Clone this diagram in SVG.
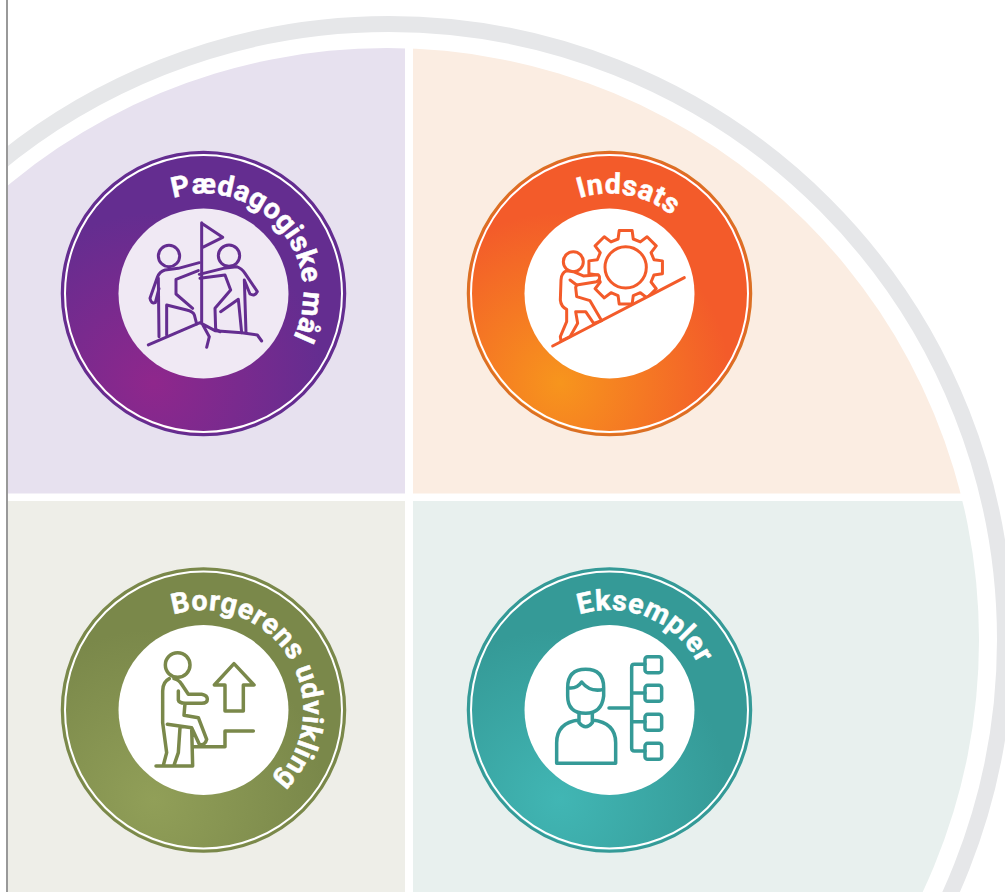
<svg xmlns="http://www.w3.org/2000/svg" width="1005" height="892" viewBox="0 0 1005 892">
<style>
.lbl{font-family:"Roboto","Liberation Sans",sans-serif;font-weight:700;font-size:28.500px;fill:#fff;stroke:#fff;stroke-width:.5px;letter-spacing:.2px}
.ico{fill:none;stroke-width:9;stroke-linecap:round;stroke-linejoin:round}
.hl{fill:none;stroke:#fff;stroke-width:2}
</style>
<defs>
<clipPath id="disc"><circle cx="387" cy="640" r="592"/></clipPath>
<clipPath id="gearClip"><polygon points="380,200 720,200 720,399 430,549 380,549"/></clipPath>
<path id="arc" d="M-30.900,-95.100A100,100 0 1 1 17.400,98.500"/>
<radialGradient id="gP" cx=".325" cy=".815" r=".6"><stop offset="0" stop-color="#8F278C"/><stop offset="1" stop-color="#642D90"/></radialGradient>
<radialGradient id="gO" cx=".325" cy=".815" r=".6"><stop offset="0" stop-color="#F7951D"/><stop offset="1" stop-color="#F35B2A"/></radialGradient>
<radialGradient id="gG" cx=".325" cy=".815" r=".6"><stop offset="0" stop-color="#919F58"/><stop offset="1" stop-color="#7A884A"/></radialGradient>
<radialGradient id="gT" cx=".325" cy=".815" r=".6"><stop offset="0" stop-color="#41B6B4"/><stop offset="1" stop-color="#359A97"/></radialGradient>
</defs>
<rect width="1005" height="892" fill="#fff"/>
<circle cx="389" cy="640" r="616" fill="none" stroke="#E6E7E9" stroke-width="16"/>
<g clip-path="url(#disc)">
<rect x="8" y="40" width="397" height="453.500" fill="#E7E1EF"/>
<rect x="413" y="40" width="592" height="453.500" fill="#FBEDE2"/>
<rect x="8" y="501" width="397" height="391" fill="#EEEEE8"/>
<rect x="413" y="501" width="592" height="391" fill="#E8F0EE"/>
</g>
<rect x="0" y="0" width="6" height="892" fill="#fff"/>
<rect x="6" y="0" width="2" height="892" fill="#999"/>

<g id="paedagogiske-maal">
<g transform="translate(203.500,293.500)">
<circle r="141.500" fill="url(#gP)" stroke="#642D90" stroke-width="2.500"/>
<circle r="138.500" class="hl"/>
<circle r="85" fill="#F0E9F4"/>
<text class="lbl"><textPath href="#arc" startOffset="1">Pædagogiske mål</textPath></text>
</g>
<g transform="translate(50,140) scale(.33333)" class="ico" stroke="#642D90">
<circle cx="357" cy="348" r="32"/><circle cx="537" cy="347" r="32"/>
<path d="M455,248V545M455,250L518,292L458,322"/>
<path d="M448,368L385,385L345,390Q328,395 322,412L300,475Q303,492 316,488L327,445M325,415L327,590M350,495V585M350,495L410,510Q430,515 433,525L440,552M445,392L378,418V462L428,505"/>
<path d="M448,403L520,385L560,380Q575,385 585,400L622,455Q615,470 600,462L583,420L588,578M450,415L525,405L542,450L495,505L497,568L510,575M512,515L565,478L575,578"/>
<path d="M295,615L450,548L495,572L575,578L622,585L635,603M455,548L478,590L470,622"/>
</g>
</g>

<g id="indsats">
<g transform="translate(609.500,293.500)">
<circle r="141.500" fill="url(#gO)" stroke="#DB7024" stroke-width="2.500"/>
<circle r="138.500" class="hl"/>
<circle r="85" fill="#fff"/>
<text class="lbl" style="letter-spacing:.5px"><textPath href="#arc" startOffset="1">Indsats</textPath></text>
</g>
<g transform="translate(455,140) scale(.33333)" class="ico" stroke="#F35B2A">
<g clip-path="url(#gearClip)">
<path transform="translate(512,382)" d="M-22.800,-85L-19.400,-110.300H19.400L22.800,-85L44,-76.200L64.300,-91.700L91.700,-64.300L76.200,-44L85,-22.800L110.300,-19.400V19.400L85,22.800L76.200,44L91.700,64.300L64.300,91.700L44,76.200L22.800,85L19.400,110.300H-19.400L-22.800,85L-44,76.200L-64.300,91.700L-91.700,64.300L-76.200,44L-85,22.800L-110.300,19.400V-19.400L-85,-22.800L-76.200,-44L-91.700,-64.300L-64.300,-91.700L-44,-76.200Z"/>
</g>
<circle cx="512" cy="382" r="62"/>
<circle cx="355" cy="365" r="30" fill="#fff"/>
<path fill="#fff" d="M335,392Q318,400 318,420L316,480Q318,500 335,508V545L316,590L318,603L345,590L368,550L362,515H392L416,550L440,542L405,482L365,470L362,442L365,435L425,425Q440,415 430,404L385,408L355,395Z"/>
<path d="M345,420L365,435"/>
<path d="M293,618L688,413"/>
</g>
</g>

<g id="borgerens-udvikling">
<g transform="translate(203.500,710)">
<circle r="141.500" fill="url(#gG)" stroke="#7A884A" stroke-width="2.500"/>
<circle r="138.500" class="hl"/>
<circle r="85" fill="#fff"/>
<text class="lbl" style="letter-spacing:.5px"><textPath href="#arc" startOffset="1">Borgerens udvikling</textPath></text>
</g>
<g transform="translate(50,556) scale(.33333)" class="ico" stroke="#7A884A" style="stroke-width:10.500">
<circle cx="383" cy="327" r="37"/>
<path d="M358,368Q338,378 338,405V500L350,590L340,628M372,368Q388,372 395,385L415,415H455Q472,418 472,430Q472,442 455,442H405L402,478L445,485L470,550Q465,570 448,565L425,515L352,505M385,405V432Q387,441 405,442M390,515L385,590L372,628M425,515L428,630M318,630H428M428,572H525V525H610"/>
<path d="M552,323L612,387H580V465H525V387H493Z"/>
</g>
</g>

<g id="eksempler">
<g transform="translate(609.500,710)">
<circle r="141.500" fill="url(#gT)" stroke="#359A97" stroke-width="2.500"/>
<circle r="138.500" class="hl"/>
<circle r="85" fill="#fff"/>
<text class="lbl" style="letter-spacing:.5px"><textPath href="#arc" startOffset="1">Eksempler</textPath></text>
</g>
<g transform="translate(455,556) scale(.33333)" class="ico" stroke="#359A97" style="stroke-width:10.500">
<path d="M338,395Q338,340 392,340Q446,340 446,395V420Q440,472 392,472Q338,472 338,420ZM338,395Q365,400 380,378Q405,410 446,400"/>
<path d="M372,472V500Q392,525 412,500V472M372,492Q305,500 305,560V622H482V560Q482,500 412,492"/>
<path d="M462,456H530M570,325H538Q530,325 530,333V577Q530,585 538,585H570M530,411H570M530,497H570"/>
<rect x="570" y="302" width="50" height="48" rx="8"/><rect x="570" y="388" width="50" height="48" rx="8"/><rect x="570" y="475" width="50" height="48" rx="8"/><rect x="570" y="562" width="50" height="48" rx="8"/>
</g>
</g>
</svg>
